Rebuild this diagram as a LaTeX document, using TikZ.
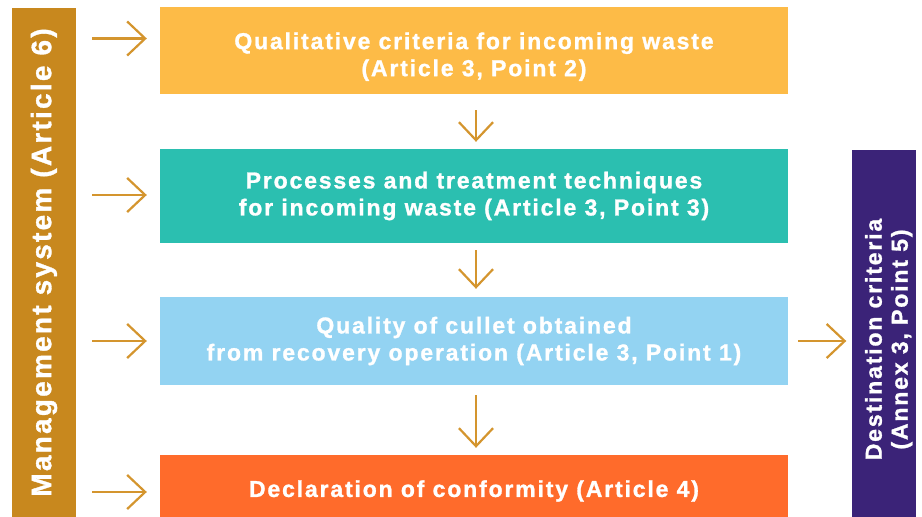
\documentclass[tikz,border=0pt]{standalone}
\usepackage{fontspec}
\setmainfont[LetterSpace=8, BoldFeatures={FakeBold=1.2}]{Liberation Sans}
\usetikzlibrary{arrows.meta, positioning}

\definecolor{mgmtgold}{HTML}{C8881E}
\definecolor{crityellow}{HTML}{FDBB47}
\definecolor{procteal}{HTML}{2BBFB0}
\definecolor{culletblue}{HTML}{93D3F2}
\definecolor{declorange}{HTML}{FF6B2B}
\definecolor{destpurple}{HTML}{3B2378}
\definecolor{flowgold}{HTML}{D4952E}

\begin{document}
\begin{tikzpicture}[x=1pt, y=-1pt,
  stage/.style={rectangle, minimum width=628pt, inner sep=0pt, align=center,
                text=white, font=\bfseries\fontsize{23}{27}\selectfont},
  sidebar/.style={rectangle, inner sep=0pt, text=white,
                  font=\bfseries\fontsize{23}{26}\selectfont},
  flow/.style={-{Straight Barb[length=18pt, width=34pt]}, line width=2.2pt, flowgold}
]
\useasboundingbox (0,0) rectangle (922,517);

\node[sidebar, fill=mgmtgold, minimum width=64pt, minimum height=509pt,
      font=\bfseries\fontsize{28}{32}\selectfont] (mgmt) at (44,262.5)
     {\rotatebox{90}{Management system (Article 6)}};
\node[sidebar, fill=destpurple, minimum width=63pt, minimum height=367pt] (dest) at (883.5,333.5)
     {\hspace*{12pt}\rotatebox{90}{\begin{tabular}{@{}c@{}}Destination criteria\\(Annex 3, Point 5)\end{tabular}\hspace*{12pt}}};

\node[stage, fill=crityellow, minimum height=87pt] (qualcrit) at (474,50.5)
     {\rule{0pt}{29pt}Qualitative criteria for incoming waste\\(Article 3, Point 2)};
\node[stage, fill=procteal, minimum height=94pt] (process) at (474,196)
     {Processes and treatment techniques\\for incoming waste (Article 3, Point 3)};
\node[stage, fill=culletblue, minimum height=88pt] (cullet) at (474,341)
     {Quality of cullet obtained\\from recovery operation (Article 3, Point 1)};
\node[stage, fill=declorange, minimum height=72pt] (declar) at (474,491)
     {Declaration of conformity (Article 4)};

\foreach \stg/\dy in {qualcrit/12, process/1, cullet/0, declar/-1}
  \draw[flow] ([xshift=16pt, yshift=\dy pt]mgmt.east |- \stg.west)
           -- ([xshift=-13pt, yshift=\dy pt]\stg.west);

\draw[flow, shorten <=16pt, shorten >=7pt] ([xshift=2pt]qualcrit.south) -- ([xshift=2pt]process.north);
\draw[flow, shorten <=7pt, shorten >=8pt] ([xshift=2pt]process.south) -- ([xshift=2pt]cullet.north);
\draw[flow, shorten <=10pt, shorten >=7pt] ([xshift=2pt]cullet.south) -- ([xshift=2pt]declar.north);
\draw[flow, shorten <=10pt, shorten >=5pt] (cullet.east) -- (cullet.east -| dest.west);
\end{tikzpicture}
\end{document}
